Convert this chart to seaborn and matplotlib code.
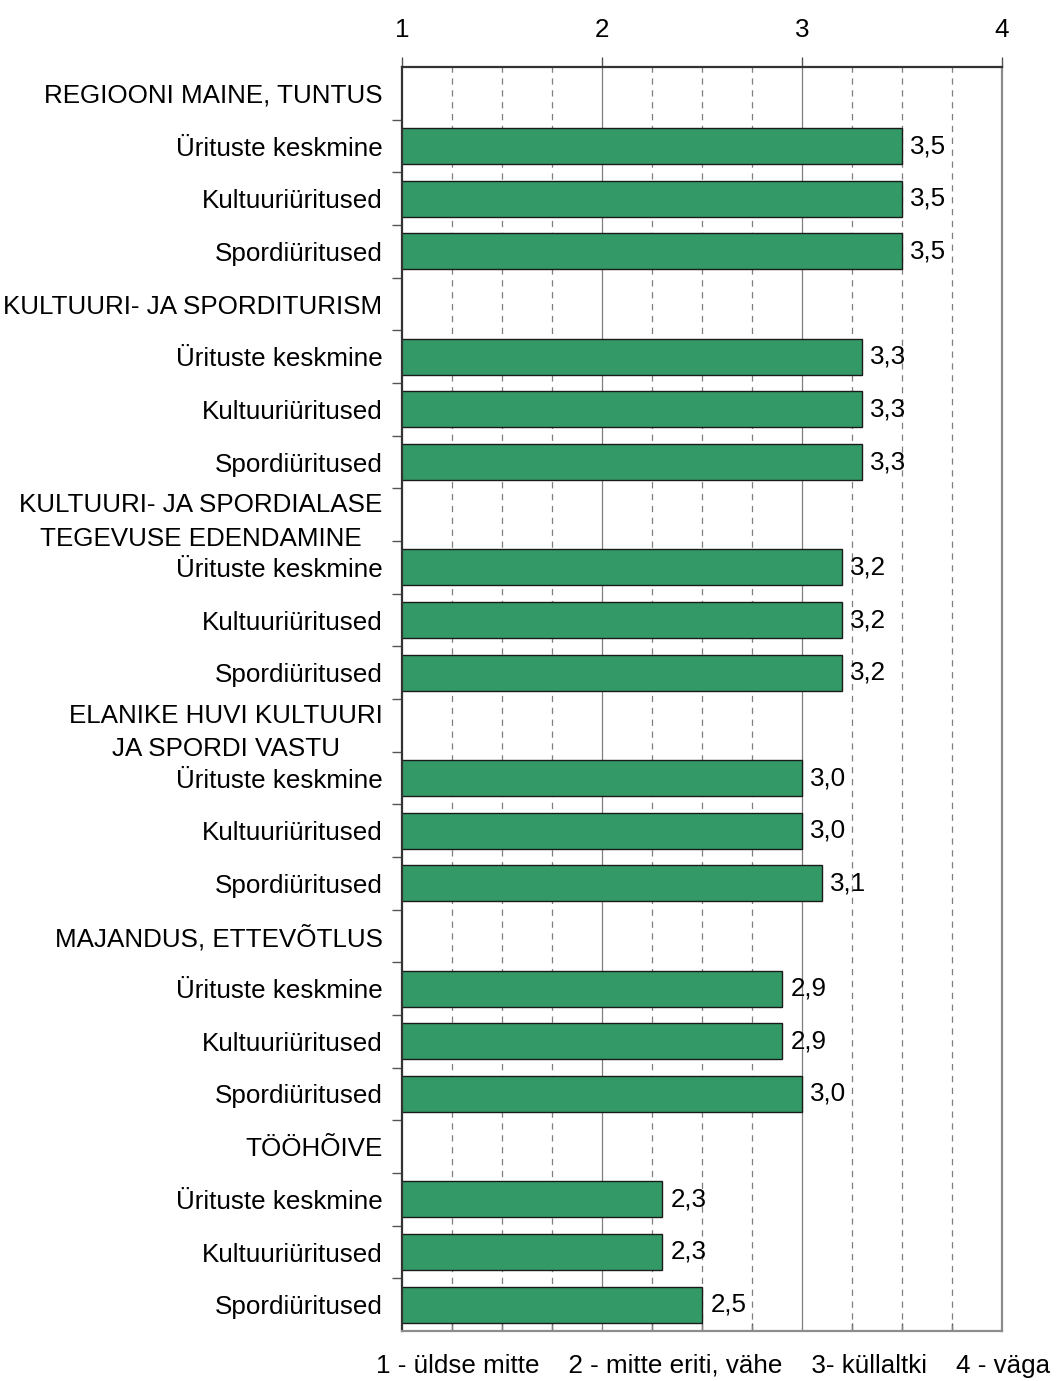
import numpy as np
import pandas as pd
import matplotlib
matplotlib.use("Agg")
import matplotlib.pyplot as plt
import seaborn as sns

# rows from top to bottom; group headers have no bar
groups = [
    "REGIOONI MAINE, TUNTUS",
    "KULTUURI- JA SPORDITURISM",
    "KULTUURI- JA SPORDIALASE\nTEGEVUSE EDENDAMINE",
    "ELANIKE HUVI KULTUURI\nJA SPORDI VASTU",
    "MAJANDUS, ETTEVÕTLUS",
    "TÖÖHÕIVE",
]
items = ["Ürituste keskmine", "Kultuuriüritused", "Spordiüritused"]
values = [
    [3.5, 3.5, 3.5],
    [3.3, 3.3, 3.3],
    [3.2, 3.2, 3.2],
    [3.0, 3.0, 3.1],
    [2.9, 2.9, 3.0],
    [2.3, 2.3, 2.5],
]
x_ticks = [1, 2, 3, 4]
scale_text = "1 - üldse mitte    2 - mitte eriti, vähe    3- küllaltki    4 - väga"

sns.set_style("white")
plt.rcParams['font.family'] = ['Liberation Sans', 'DejaVu Sans']
plt.rcParams['text.color'] = 'black'
plt.rcParams['xtick.color'] = 'black'
plt.rcParams['ytick.color'] = 'black'
FS = 18.7

# build rows
row_ids, row_labels, bar_rows = [], [], []
for g, grp in enumerate(groups):
    row_ids.append(f"h{g}")
    row_labels.append(grp)
    for i, it in enumerate(items):
        rid = f"r{g}_{i}"
        row_ids.append(rid)
        row_labels.append(it)
        bar_rows.append({"row": rid, "value": values[g][i]})
df = pd.DataFrame(bar_rows)

fig = plt.figure(figsize=(10.63, 13.81), dpi=100)
ax = fig.add_axes([402 / 1063, 1 - 1331 / 1381, 600 / 1063, (1331 - 67) / 1381])

sns.barplot(data=df, x="value", y="row", order=row_ids, orient="h",
            color="#339966", saturation=1, width=0.68,
            edgecolor="#1a1a1a", linewidth=1.0, ax=ax, zorder=3)

ax.set_xlim(1, 4)
ax.set_ylim(len(row_ids) - 0.5, -0.5)

# grid
for xv in np.arange(1.25, 4, 0.25):
    if abs(xv - round(xv)) < 1e-9:
        ax.axvline(xv, color="#7f7f7f", lw=0.9, zorder=1)
    else:
        ax.axvline(xv, color="#7f7f7f", lw=0.9, ls=(0, (5, 4.5)), zorder=1)

# x axis on top
ax.xaxis.tick_top()
ax.set_xticks(x_ticks)
ax.set_xticklabels([str(t) for t in x_ticks])
ax.set_xticks(np.arange(1.25, 4, 0.25), minor=True)
ax.tick_params(axis="x", which="major", top=True, bottom=False, length=7,
               direction="out", width=1, color="#555555", labelsize=FS, pad=11)
ax.tick_params(axis="x", which="minor", top=False, bottom=True, length=6,
               direction="in", width=1, color="#555555")
ax.set_xlabel("")

# y labels at row centers, ticks at boundaries
ax.set_yticks(range(len(row_ids)))
ax.set_yticklabels(row_labels, multialignment="center", linespacing=1.5)
ax.set_yticks(np.arange(0.5, len(row_ids) - 0.5, 1), minor=True)
ax.tick_params(axis="y", which="major", length=0, labelsize=FS, pad=14)
ax.tick_params(axis="y", which="minor", left=True, length=7, direction="out",
               width=1, color="#555555")
ax.set_ylabel("")

for side in ["top", "left"]:
    ax.spines[side].set_color("#333333")
    ax.spines[side].set_linewidth(1.6)
for side in ["right", "bottom"]:
    ax.spines[side].set_color("#8c8c8c")
    ax.spines[side].set_linewidth(1.6)
for s in ax.spines.values():
    s.set_visible(True)
    s.set_zorder(4)

labels = [f"{v:.1f}".replace(".", ",") for row in values for v in row]
ax.bar_label(ax.containers[0], labels=labels, padding=6, fontsize=FS, zorder=5)

fig.text(376 / 1063, 1 - 1366 / 1381, scale_text, fontsize=FS, va="center", ha="left")

fig.savefig("out.png", dpi=100)
